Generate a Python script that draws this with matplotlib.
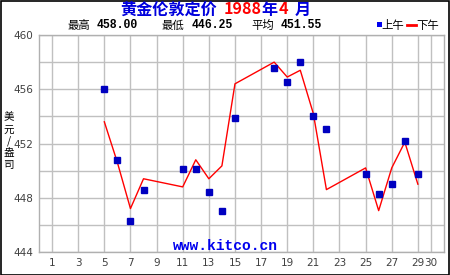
import matplotlib
matplotlib.use("Agg")
import matplotlib.pyplot as plt
from matplotlib.patches import Rectangle
from matplotlib.lines import Line2D

days = [5, 6, 7, 8, 11, 12, 13, 14, 15, 18, 19, 20, 21, 22, 25, 26, 27, 28, 29]
am = [456.00, 450.75, 446.25, 448.55, 450.10, 450.15, 448.45, 447.00, 453.85,
      457.55, 456.50, 458.00, 454.00, 453.10, 449.75, 448.25, 449.05, 452.15, 449.75]
pm = [453.60, 450.60, 447.20, 449.40, 448.80, 450.80, 449.40, 450.35, 456.40,
      458.00, 456.90, 457.40, 454.20, 448.60, 450.20, 447.05, 450.20, 452.10, 449.00]
xticks = [1, 3, 5, 7, 9, 11, 13, 15, 17, 19, 21, 23, 25, 27, 29, 30]
yticks = [444, 446, 448, 450, 452, 454, 456, 458, 460]
ylabels = ["444", "", "448", "", "452", "", "456", "", "460"]
title_parts = [("黄金伦敦定价", "#0000dd"), ("1988", "#ff0000"), ("年", "#0000dd"),
               ("4", "#ff0000"), ("月", "#0000dd")]
stats = [("最高", "458.00"), ("最低", "446.25"), ("平均", "451.55")]
ylabel_chars = ["美", "元", "/", "盎", "司"]

W, H = 450, 275
fig = plt.figure(figsize=(W / 100, H / 100), dpi=100, facecolor="white")

def fx(x):
    return x / W

def fy(y):
    return 1 - y / H

ax = fig.add_axes([fx(39), fy(252), fx(444) - fx(39), fy(35) - fy(252)])
ax.set_xlim(0, 31)
ax.set_ylim(444, 460)
ax.set_xticks(xticks)
ax.set_yticks(yticks)
ax.set_yticklabels(ylabels)
ax.grid(True, color="#c0c0c0", linewidth=1)
ax.set_axisbelow(True)
for s in ax.spines.values():
    s.set_color("#b0b0b0")
    s.set_linewidth(1)
ax.tick_params(length=0, pad=4, labelsize=7.5, labelcolor="#404040")
for lab in ax.get_xticklabels() + ax.get_yticklabels():
    lab.set_family("DejaVu Sans")

ax.plot(days, pm, color="#ff0000", linewidth=1.0, zorder=3)
ax.plot(days, am, linestyle="none", marker="s", markersize=4.6,
        markerfacecolor="#0000c0", markeredgecolor="#0000c0", zorder=4)

ax.text((225.5 - 39) / (444 - 39), (252 - 246.5) / (252 - 35),
        "www.kitco.cn", transform=ax.transAxes, ha="center", va="center",
        color="#0000ee", fontsize=10.5, fontweight="bold", family="Liberation Mono")

cjk = ["Noto Sans CJK SC", "DejaVu Sans"]

# title pieces laid out one after another
renderer = fig.canvas.get_renderer()
gaps = [0, 6, 0, 1, 7]
x = 120.5
for (txt, col), g in zip(title_parts, gaps):
    x += g
    t = fig.text(fx(x), fy(9.5), txt, color=col, fontsize=11.6, fontweight="bold",
                 family=cjk, ha="left", va="center")
    x += t.get_window_extent(renderer).width

# stats line
label_x = [68, 162, 251]
num_x = [96.5, 192, 281]
for (lab, num), lx, nx in zip(stats, label_x, num_x):
    fig.text(fx(lx), fy(25.5), lab, fontsize=8.2, family=cjk, ha="left", va="center",
             color="black")
    fig.text(fx(nx), fy(25.5), num, fontsize=8.3, family="Liberation Mono",
             fontweight="bold", ha="left", va="center", color="black")

# legend
fig.patches.append(Rectangle((fx(376.5), fy(26.5)), fx(5), 5 / H, transform=fig.transFigure,
                             facecolor="#0000ee", edgecolor="none"))
fig.text(fx(381.5), fy(25.5), "上午", fontsize=8.2, family=cjk, ha="left", va="center")
fig.lines.append(Line2D([fx(406.5), fx(415.5)], [fy(25), fy(25)], transform=fig.transFigure,
                        color="#ff0000", linewidth=2))
fig.text(fx(416.5), fy(25.5), "下午", fontsize=8.2, family=cjk, ha="left", va="center")

# y label stacked
ylab_y = [117, 129.5, 141, 153, 165]
for ch, y in zip(ylabel_chars, ylab_y):
    fig.text(fx(8.5), fy(y), ch, fontsize=7.6, family=cjk, ha="center", va="center")

# outer border
fig.patches.append(Rectangle((0.5 / W, 0.5 / H), 1 - 1.5 / W, 1 - 1.5 / H,
                             transform=fig.transFigure, fill=False,
                             edgecolor="black", linewidth=1.2))

fig.savefig("out.png", dpi=100, facecolor="white")
